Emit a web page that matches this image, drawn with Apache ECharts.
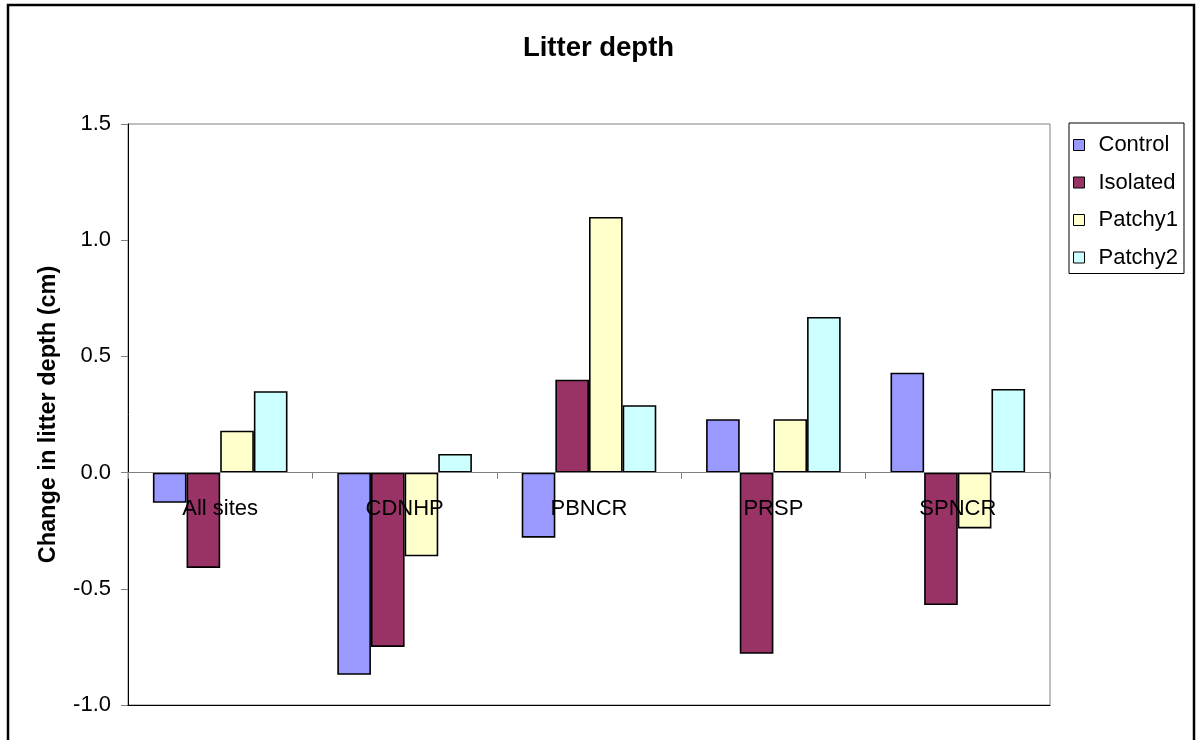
<!DOCTYPE html>
<html>
<head>
<meta charset="utf-8">
<script src="https://cdn.jsdelivr.net/npm/echarts@6/dist/echarts.min.js"></script>
<style>
html,body{margin:0;padding:0;background:#fff;}
#chart{width:1197px;height:740px;}
</style>
</head>
<body>
<div id="chart"></div>
<script>
var categories = ['All sites', 'CDNHP', 'PBNCR', 'PRSP', 'SPNCR'];
var seriesNames = ['Control', 'Isolated', 'Patchy1', 'Patchy2'];
var control = [-0.13, -0.87, -0.28, 0.23, 0.43];
var isolated = [-0.41, -0.75, 0.40, -0.78, -0.57];
var patchy1 = [0.18, -0.36, 1.10, 0.23, -0.24];
var patchy2 = [0.35, 0.08, 0.29, 0.67, 0.36];
var yTicks = [-1.0, -0.5, 0.0, 0.5, 1.0, 1.5];

var colors = ['#9999FF', '#993366', '#FFFFCC', '#CCFFFF'];
var values = [control, isolated, patchy1, patchy2];
var FONT = '"Liberation Sans", Arial, sans-serif';

var chart = echarts.init(document.getElementById('chart'), null, {renderer: 'canvas'});

var series = seriesNames.map(function (name, i) {
  return {
    name: name,
    type: 'bar',
    data: values[i],
    barGap: '0%',
    barCategoryGap: '27%',
    itemStyle: {color: colors[i], borderColor: '#000', borderWidth: 1.6},
    emphasis: {disabled: true},
    z: 2
  };
});

// category labels anchored at the zero line
series.push({
  name: 'labels',
  type: 'scatter',
  silent: true,
  symbolSize: 0,
  z: 10,
  itemStyle: {opacity: 1},
  data: categories.map(function (c) { return {name: c, value: [c, 0]}; }),
  label: {
    show: true,
    position: 'bottom',
    distance: 25,
    formatter: '{b}',
    fontFamily: FONT,
    fontSize: 22,
    color: '#000',
    opacity: 1,
    textBorderWidth: 0
  },
  emphasis: {disabled: true},
  tooltip: {show: false}
});

chart.setOption({
  animation: false,
  backgroundColor: '#fff',
  textStyle: {fontFamily: FONT},
  title: {
    text: 'Litter depth',
    left: 'center',
    top: 34,
    padding: 0,
    textStyle: {fontFamily: FONT, fontWeight: 'bold', fontSize: 27.5, color: '#000'}
  },
  legend: {
    orient: 'vertical',
    left: 1069,
    top: 123,
    padding: [11, 6, 5, 4],
    itemGap: 15.5,
    itemWidth: 11,
    itemHeight: 11,
    icon: 'rect',
    borderColor: '#000',
    borderWidth: 1,
    backgroundColor: '#fff',
    data: seriesNames,
    textStyle: {fontFamily: FONT, fontSize: 22, color: '#000', padding: [0, 0, 0, 9]},
    itemStyle: {borderColor: '#000', borderWidth: 1}
  },
  grid: {
    left: 128, top: 124, right: 147, bottom: 35,
    show: true, borderColor: '#808080', borderWidth: 1,
    containLabel: false, outerBoundsMode: 'none'
  },
  xAxis: [{
    type: 'category',
    data: categories,
    position: 'bottom',
    z: 10,
    axisLine: {onZero: true, lineStyle: {color: '#808080', width: 1}},
    axisTick: {show: true, length: 6, inside: false, lineStyle: {color: '#808080'}},
    axisLabel: {show: false},
    splitLine: {show: false}
  }, {
    type: 'category',
    data: categories,
    position: 'bottom',
    z: 10,
    axisLine: {onZero: false, lineStyle: {color: '#000', width: 1}},
    axisTick: {show: false},
    axisLabel: {show: false},
    splitLine: {show: false}
  }],
  yAxis: {
    type: 'value',
    min: yTicks[0],
    max: yTicks[yTicks.length - 1],
    interval: 0.5,
    name: 'Change in litter depth (cm)',
    nameLocation: 'middle',
    nameRotate: 90,
    nameGap: 67,
    nameTextStyle: {fontFamily: FONT, fontWeight: 'bold', fontSize: 23.5, color: '#000'},
    axisLine: {show: true, lineStyle: {color: '#000', width: 1}},
    axisTick: {show: true, length: 7, lineStyle: {color: '#808080'}},
    axisLabel: {
      fontFamily: FONT, fontSize: 22, color: '#000', margin: 17,
      formatter: function (v) { return v.toFixed(1); }
    },
    splitLine: {show: false}
  },
  graphic: [{
    type: 'rect',
    shape: {x: 8, y: 5, width: 1186, height: 745},
    style: {fill: 'none', stroke: '#000', lineWidth: 2.5},
    silent: true,
    z: 100
  }],
  series: series
});
</script>
</body>
</html>
